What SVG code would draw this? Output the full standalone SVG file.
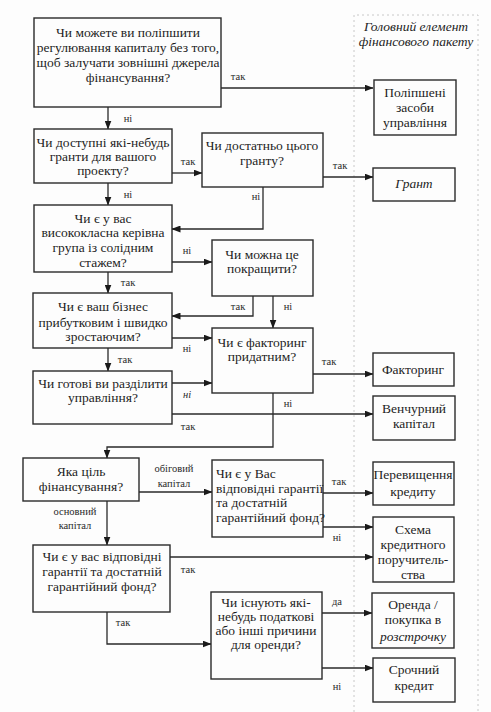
<svg xmlns="http://www.w3.org/2000/svg" width="491" height="712" viewBox="0 0 491 712">
<defs>
<marker id="ah" markerWidth="9" markerHeight="7" refX="8.5" refY="3.5" orient="auto" markerUnits="userSpaceOnUse">
<path d="M0,0 L9,3.5 L0,7 z" fill="#1a1a1a"/>
</marker>
<style>
.bx{fill:#fdfdfd;stroke:#2a2a2a;stroke-width:1.4}
.t{font-family:'Liberation Serif','DejaVu Serif','Times New Roman',serif;font-size:13.5px;fill:#1e1e1e;text-anchor:middle}
.tl{font-family:'Liberation Serif','DejaVu Serif','Times New Roman',serif;font-size:13.5px;fill:#1e1e1e;text-anchor:start}
.lb{font-family:'Liberation Serif','DejaVu Serif','Times New Roman',serif;font-size:10.5px;fill:#2a2a2a;text-anchor:middle}
.it{font-style:italic}
.ca{fill:none;stroke:#2a2a2a;stroke-width:1.3;marker-end:url(#ah)}
.col{fill:none;stroke:#c8c8c8;stroke-width:1;stroke-dasharray:2 3}
</style>
</defs>
<rect width="491" height="712" fill="#fdfdfd"/>

<g id="column">
<path class="col" d="M354,712 V15 H478 V712"/>
<text class="t it" x="416" y="31" font-size="12.5">Головний елемент</text>
<text class="t it" x="416" y="46" font-size="12.5">фінансового пакету</text>
</g>

<g id="connectors">
<path class="ca" d="M221,88 H373"/>
<text class="lb" x="238" y="80">так</text>
<path class="ca" d="M108,107 V129"/>
<text class="lb" x="128" y="122">ні</text>
<path class="ca" d="M172,173 H202"/>
<text class="lb" x="188" y="165">так</text>
<path class="ca" d="M323,177 H373"/>
<text class="lb" x="340" y="169">так</text>
<path class="ca" d="M263,187 V229 H172"/>
<text class="lb" x="256" y="200">ні</text>
<path class="ca" d="M108,183 V205"/>
<text class="lb" x="128" y="198">ні</text>
<path class="ca" d="M172,262 H212"/>
<text class="lb" x="187" y="254">ні</text>
<path class="ca" d="M108,272 V293"/>
<text class="lb" x="128" y="286">так</text>
<path class="ca" d="M253,296 V316 H172"/>
<text class="lb" x="238" y="310">так</text>
<path class="ca" d="M273,296 V328"/>
<text class="lb" x="288" y="310">ні</text>
<path class="ca" d="M172,338 H212"/>
<text class="lb" x="187" y="352">ні</text>
<path class="ca" d="M108,348 V371"/>
<text class="lb" x="125" y="363">так</text>
<path class="ca" d="M172,383 H212"/>
<text class="lb it" x="187" y="398">ні</text>
<path class="ca" d="M172,414 H373"/>
<text class="lb" x="188" y="430">так</text>
<path class="ca" d="M313,374 H373"/>
<text class="lb" x="329" y="365">так</text>
<path class="ca" d="M273,393 V447 H107 V458"/>
<text class="lb" x="288" y="407">ні</text>
<path class="ca" d="M139,492 H212"/>
<text class="lb" x="174" y="472">обіговий</text>
<text class="lb" x="174" y="487">капітал</text>
<path class="ca" d="M107,501 V545"/>
<text class="lb" x="75" y="515">основний</text>
<text class="lb" x="75" y="529">капітал</text>
<path class="ca" d="M323,493 H373"/>
<text class="lb" x="339" y="485">так</text>
<path class="ca" d="M323,527 H373"/>
<text class="lb" x="337" y="541">ні</text>
<path class="ca" d="M170,557 H373"/>
<text class="lb" x="188" y="573">так</text>
<path class="ca" d="M107,612 V644 H211"/>
<text class="lb" x="123" y="626">так</text>
<path class="ca" d="M322,613 H372"/>
<text class="lb" x="337" y="605">да</text>
<path class="ca" d="M322,668 H373"/>
<text class="lb" x="337" y="690">ні</text>
</g>

<g id="q1">
<rect class="bx" x="34" y="18" width="187" height="89"/>
<text class="t" x="128" y="37">Чи можете  ви поліпшити</text>
<text class="t" x="128" y="52">регулювання капиталу без того,</text>
<text class="t" x="128" y="67">щоб залучати зовнішні  джерела</text>
<text class="t" x="128" y="82">фінансування?</text>
</g>

<g id="r-management">
<rect class="bx" x="374" y="80" width="82" height="55"/>
<text class="t" x="415" y="97">Поліпшені</text>
<text class="t" x="415" y="112">засоби</text>
<text class="t" x="415" y="127">управління</text>
</g>

<g id="q2">
<rect class="bx" x="34" y="129" width="138" height="54"/>
<text class="t" x="103" y="147">Чи доступні які-небудь</text>
<text class="t" x="103" y="161">гранти для вашого</text>
<text class="t" x="103" y="175">проекту?</text>
</g>

<g id="q-grant">
<rect class="bx" x="202" y="133" width="121" height="54"/>
<text class="t" x="262" y="150">Чи достатньо цього</text>
<text class="t" x="262" y="165">гранту?</text>
</g>

<g id="r-grant">
<rect class="bx" x="373" y="168" width="82" height="33"/>
<text class="t it" x="414" y="188">Грант</text>
</g>

<g id="q3">
<rect class="bx" x="34" y="205" width="138" height="67"/>
<text class="t" x="103" y="223">Чи є у вас</text>
<text class="t" x="103" y="237">висококласна керівна</text>
<text class="t" x="103" y="252">група із солідним</text>
<text class="t" x="103" y="267">стажем?</text>
</g>

<g id="q-improve">
<rect class="bx" x="212" y="240" width="101" height="56"/>
<text class="t" x="262" y="259">Чи можна це</text>
<text class="t" x="262" y="273">покращити?</text>
</g>

<g id="q4">
<rect class="bx" x="33" y="293" width="139" height="55"/>
<text class="t" x="103" y="311">Чи є ваш бізнес</text>
<text class="t" x="103" y="327">прибутковим і швидко</text>
<text class="t" x="103" y="341">зростаючим?</text>
</g>

<g id="q-factoring">
<rect class="bx" x="212" y="328" width="101" height="65"/>
<text class="t" x="262" y="347">Чи є факторинг</text>
<text class="t" x="262" y="361">придатним?</text>
</g>

<g id="r-factoring">
<rect class="bx" x="373" y="353" width="81" height="33"/>
<text class="t" x="413" y="374">Факторинг</text>
</g>

<g id="q5">
<rect class="bx" x="33" y="371" width="139" height="53"/>
<text class="t" x="103" y="388">Чи готові ви разділити</text>
<text class="t" x="103" y="402">управління?</text>
</g>

<g id="r-venture">
<rect class="bx" x="373" y="396" width="82" height="44"/>
<text class="t" x="414" y="413">Венчурний</text>
<text class="t" x="414" y="428">капітал</text>
</g>

<g id="q-purpose">
<rect class="bx" x="23" y="458" width="116" height="43"/>
<text class="t" x="81" y="476">Яка ціль</text>
<text class="t" x="81" y="491">фінансування?</text>
</g>

<g id="q-guar-right">
<rect class="bx" x="212" y="460" width="111" height="77"/>
<text class="tl" x="216" y="478">Чи є у Вас</text>
<text class="tl" x="216" y="493">відповідні гарантії</text>
<text class="tl" x="216" y="507">та достатній</text>
<text class="tl" x="216" y="522">гарантійний фонд?</text>
</g>

<g id="r-overdraft">
<rect class="bx" x="373" y="462" width="81" height="43"/>
<text class="t" x="413" y="479">Перевищення</text>
<text class="t" x="413" y="496">кредиту</text>
</g>

<g id="r-scheme">
<rect class="bx" x="373" y="517" width="81" height="65"/>
<text class="t" x="413" y="534">Схема</text>
<text class="t" x="413" y="549">кредитного</text>
<text class="t" x="413" y="564">поручитель-</text>
<text class="t" x="413" y="579">ства</text>
</g>

<g id="q-guar-left">
<rect class="bx" x="33" y="545" width="137" height="67"/>
<text class="t" x="102" y="561">Чи є у вас відповідні</text>
<text class="t" x="102" y="576">гарантії та достатній</text>
<text class="t" x="102" y="591">гарантійний фонд?</text>
</g>

<g id="q-lease">
<rect class="bx" x="211" y="592" width="111" height="87"/>
<text class="t" x="266" y="607">Чи існують які-</text>
<text class="t" x="266" y="621">небудь податкові</text>
<text class="t" x="266" y="635">або інші причини</text>
<text class="t" x="266" y="649">для оренди?</text>
</g>

<g id="r-lease">
<rect class="bx" x="372" y="593" width="82" height="55"/>
<text class="t" x="413" y="609">Оренда /</text>
<text class="t" x="413" y="624">покупка в</text>
<text class="t it" x="413" y="641">розстрочку</text>
</g>

<g id="r-loan">
<rect class="bx" x="373" y="658" width="82" height="44"/>
<text class="t" x="414" y="674">Срочний</text>
<text class="t" x="414" y="690">кредит</text>
</g>
</svg>
